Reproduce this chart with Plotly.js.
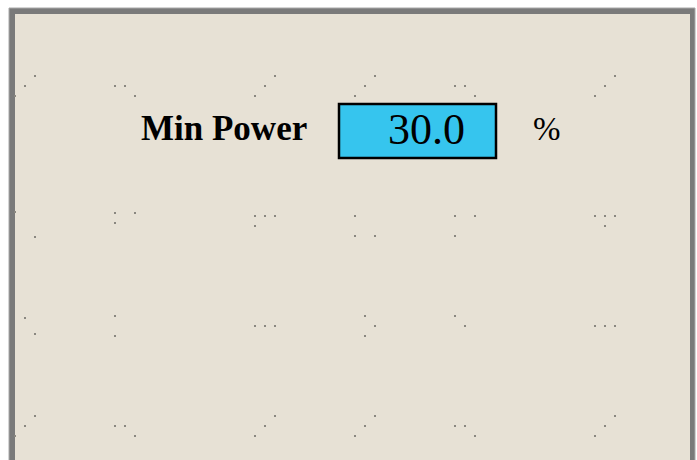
<!DOCTYPE html>
<html>
<head>
<meta charset="utf-8">
<script src="https://cdn.plot.ly/plotly-3.0.1.min.js"></script>
<style>html,body{margin:0;padding:0;background:#fff;}#chart{width:697px;height:460px;}</style>
</head>
<body>
<div id="chart"></div>
<script>
// Screen content
const labelText = "Min Power";
const valueText = "30.0";
const unitText = "%";
// Faint pixel specks seen on the LCD background (x, y in screen pixels)
const speckX = [35,25,15,115,125,135,275,265,255,375,365,355,455,465,475,615,605,595,
                15,35,115,135,115,255,265,275,255,355,355,375,455,475,455,595,605,615,605,
                25,35,115,115,255,265,275,365,365,375,455,465,595,605,615,
                35,25,15,115,125,135,275,265,255,375,365,355,455,465,475,615,605,595];
const speckY = [76,86,96,86,86,96,76,86,96,76,86,96,86,86,96,76,86,96,
                212,237,213,213,223,216,216,216,226,216,236,236,216,216,236,216,216,216,226,
                318,334,316,336,326,326,326,316,336,326,316,326,326,326,326,
                416,426,436,426,426,436,416,426,436,416,426,436,426,426,436,416,426,436];

const W = 697, H = 460;
const data = [{
  type: 'scatter', mode: 'markers', x: speckX, y: speckY,
  marker: {size: 2, color: '#8a8780', symbol: 'square'},
  hoverinfo: 'skip', showlegend: false
}];
const layout = {
  width: W, height: H,
  margin: {l: 0, r: 0, t: 0, b: 0},
  paper_bgcolor: '#ffffff', plot_bgcolor: '#ffffff',
  xaxis: {range: [0, W], visible: false, fixedrange: true},
  yaxis: {range: [H, 0], visible: false, fixedrange: true},
  shapes: [
    {type: 'rect', xref: 'x', yref: 'y', x0: 9, x1: 695, y0: 8, y1: 470,
     fillcolor: '#7a7a7a', line: {width: 1, color: '#a8a8a8'}, layer: 'below'},
    {type: 'rect', xref: 'x', yref: 'y', x0: 15, x1: 690, y0: 14, y1: 470,
     fillcolor: '#e7e1d5', line: {width: 0}, layer: 'below'},
    {type: 'rect', xref: 'x', yref: 'y', x0: 339, x1: 496, y0: 104, y1: 158,
     fillcolor: '#36c5ee', line: {width: 2.5, color: '#000000'}, layer: 'below'}
  ],
  annotations: [
    {x: 224, y: 128, xref: 'x', yref: 'y', text: '<b>' + labelText + '</b>', showarrow: false,
     font: {family: 'Liberation Serif, Times New Roman, serif', size: 35, color: '#000000'}},
    {x: 426, y: 129, xref: 'x', yref: 'y', text: valueText, showarrow: false,
     font: {family: 'Liberation Serif, Times New Roman, serif', size: 44, color: '#000000'}},
    {x: 547, y: 129, xref: 'x', yref: 'y', text: unitText, showarrow: false,
     font: {family: 'Liberation Serif, Times New Roman, serif', size: 33, color: '#000000'}}
  ]
};
Plotly.newPlot('chart', data, layout, {staticPlot: true, displayModeBar: false});
</script>
</body>
</html>
